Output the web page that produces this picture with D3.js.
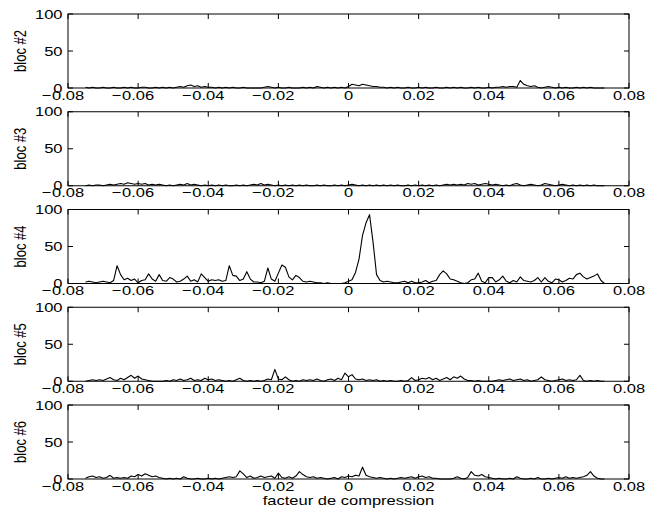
<!DOCTYPE html>
<html>
<head>
<meta charset="utf-8">
<script src="https://cdn.jsdelivr.net/npm/d3@7"></script>
<style>
    body { margin: 0; background: white; }
    svg { display: block; }
    text { font-family: "Liberation Sans", Arial, Helvetica, sans-serif; }
</style>
</head>
<body>
<svg id="chart"></svg>
<script>
// one value every 0.001 from -0.075 to 0.073
var factors = d3.range(149).map(function(i){ return +(-0.075 + i * 0.001).toFixed(3); });

var blocNames = ['bloc #2', 'bloc #3', 'bloc #4', 'bloc #5', 'bloc #6'];
var xTicks = [-0.08, -0.06, -0.04, -0.02, 0, 0.02, 0.04, 0.06, 0.08];
var yTicks = [0, 50, 100];

var bloc2 = [
    1,0,1,0,0,1,0,0,1,0, 0,1,0,1,0,0,1,1,0,0, 1,0,1,0,1,0,1,2,1,3, 4,2,3,1,2,1,1,0,1,0,
    1,0,1,0,0,1,0,0,0,0, 0,1,2,1,0,1,0,0,1,0, 0,0,1,0,1,0,2,1,0,1, 0,1,0,1,0,2,5,4,3,5,
    4,3,2,2,1,1,0,1,0,1, 0,0,1,0,0,1,0,1,0,0, 1,0,0,1,0,1,0,1,0,0, 1,0,1,0,0,1,0,1,1,2,
    1,2,2,1,10,5,3,2,3,1, 0,1,2,1,0,1,0,1,0,0, 1,0,1,0,1,0,0,0,0
];
var bloc3 = [
    0,1,0,1,1,0,1,2,1,2, 3,2,4,3,2,3,2,3,1,2, 1,2,1,0,1,0,1,2,1,3, 1,2,1,0,1,0,1,0,1,0,
    1,0,0,1,0,1,0,1,2,1, 3,1,2,1,0,1,0,1,0,1, 0,1,0,1,0,0,1,0,1,0, 0,1,0,1,0,1,2,1,0,1,
    0,1,0,1,0,1,0,1,0,1, 0,0,1,0,1,0,1,0,1,0, 1,0,1,2,1,2,1,2,1,3, 2,3,1,2,3,2,1,2,1,0,
    1,0,2,3,1,0,1,2,1,0, 1,3,2,1,0,1,2,1,0,1, 0,1,0,1,0,1,0,0,0
];
var bloc4 = [
    2,3,2,1,2,3,2,1,4,24, 12,5,7,4,6,1,4,5,13,6, 3,12,4,3,8,6,2,3,6,10, 3,5,2,13,8,3,5,4,5,3,
    4,24,11,10,4,6,16,6,2,2, 1,3,21,6,3,14,25,22,9,5, 11,8,3,2,3,2,1,1,0,1, 0,0,0,0,1,3,5,15,33,65,
    82,93,56,12,4,2,3,2,1,1, 2,3,1,3,1,1,2,4,1,3, 4,12,17,13,6,5,3,1,0,1, 5,6,14,3,1,8,8,2,5,10,
    3,1,4,2,9,4,3,2,4,8, 2,8,3,1,6,5,2,4,7,6, 12,14,9,6,8,10,13,4,0
];
var bloc5 = [
    0,1,2,1,2,1,3,5,2,1, 4,2,5,8,4,7,3,2,1,0, 0,0,0,1,0,2,1,3,1,2, 4,1,2,1,4,2,3,1,2,1,
    0,1,0,2,4,1,0,1,0,1, 0,1,3,2,16,3,2,6,2,0, 1,0,2,1,2,1,3,1,0,2, 3,1,4,2,11,6,9,3,2,3,
    1,2,1,2,0,1,0,1,0,0, 1,0,1,5,1,2,4,3,5,2, 4,1,3,5,2,6,4,7,3,1, 1,0,1,0,0,0,0,1,2,1,
    2,3,1,2,3,1,2,0,1,2, 6,2,1,0,1,2,3,1,2,1, 2,8,1,0,1,0,1,0,0
];
var bloc6 = [
    1,3,4,2,3,1,2,5,1,2, 1,2,1,4,3,6,4,7,5,3, 4,2,1,0,1,0,1,0,3,1, 0,0,1,0,0,1,0,1,0,1,
    2,3,2,3,11,7,2,4,1,2, 4,2,3,4,1,8,2,1,3,1, 4,10,6,3,2,3,1,2,1,0, 1,2,0,3,2,4,3,5,4,16,
    5,3,2,1,2,1,0,1,0,1, 2,1,2,3,1,3,4,2,3,1, 1,0,0,0,0,1,3,1,0,2, 10,5,4,6,3,2,1,0,1,0,
    0,1,0,3,1,0,0,1,0,2, 0,0,1,0,1,2,1,3,1,2, 1,2,3,5,10,4,1,0,0
];
var blocValues = [bloc2, bloc3, bloc4, bloc5, bloc6];

var width = 659;
var height = 515;
var left = 68;
var right = 629;
var panelTop = 14;
var panelHeight = 74;
var panelStep = 97.75;
var tickLength = 5;
var fontSize = 13;
var stretch = 1.27;   // the picture is a bit wider than it is tall

var svg = d3.select('svg#chart')
    .attr('width', width)
    .attr('height', height)
    .attr('xmlns', 'http://www.w3.org/2000/svg');

var x = d3.scaleLinear().domain([-0.08, 0.08]).range([left, right]);

function formatTick(v){
    if(v === 0){
        return '0';
    }
    return Math.abs(v).toFixed(2);
}

// text placed through a group so it can be stretched sideways like the original
function stretchedText(parent, px, py, str, anchor){
    var g = parent.append('g')
        .attr('transform', 'translate(' + px + ',' + py + ') scale(' + stretch + ',1)');
    var t = g.append('text')
        .attr('text-anchor', anchor)
        .style('font-size', fontSize + 'px')
        .text(str);
    return {group: g, text: t};
}

blocValues.forEach(function(values, k){
    var top = panelTop + k * panelStep;
    var bottom = top + panelHeight;
    var y = d3.scaleLinear().domain([0, 100]).range([bottom, top]);
    var panel = svg.append('g');

    var line = d3.line()
        .x(function(d, i){ return x(factors[i]); })
        .y(function(d){ return y(d); });

    panel.append('path')
        .datum(values)
        .attr('d', line)
        .style('fill', 'none')
        .style('stroke', 'black')
        .style('stroke-width', 1.1)
        .style('stroke-linejoin', 'round');

    // ticks pointing inwards on all four sides
    xTicks.forEach(function(t){
        panel.append('line')
            .attr('x1', x(t)).attr('x2', x(t))
            .attr('y1', bottom).attr('y2', bottom - tickLength)
            .style('stroke', 'black');
        panel.append('line')
            .attr('x1', x(t)).attr('x2', x(t))
            .attr('y1', top).attr('y2', top + tickLength)
            .style('stroke', 'black');

        // digits centred on the tick, minus sign hanging on the left
        var label = stretchedText(panel, x(t), bottom + 11.5, formatTick(t), 'middle');
        if(t < 0){
            var w = label.text.node().getComputedTextLength();
            label.group.append('text')
                .attr('x', -w / 2 - 0.5)
                .attr('text-anchor', 'end')
                .style('font-size', fontSize + 'px')
                .text('\u2212');
        }
    });

    yTicks.forEach(function(t){
        panel.append('line')
            .attr('x1', left).attr('x2', left + tickLength)
            .attr('y1', y(t)).attr('y2', y(t))
            .style('stroke', 'black');
        panel.append('line')
            .attr('x1', right).attr('x2', right - tickLength)
            .attr('y1', y(t)).attr('y2', y(t))
            .style('stroke', 'black');
        stretchedText(panel, left - 5.5, y(t) + 4.5, String(t), 'end');
    });

    panel.append('rect')
        .attr('x', left)
        .attr('y', top)
        .attr('width', right - left)
        .attr('height', panelHeight)
        .style('fill', 'none')
        .style('stroke', 'black')
        .style('stroke-width', 1);

    // rotated name of the bloc
    panel.append('g')
        .attr('transform', 'translate(26,' + (top + bottom) / 2 + ') scale(' + stretch + ',1) rotate(-90)')
        .append('text')
        .attr('text-anchor', 'middle')
        .style('font-size', fontSize + 'px')
        .text(blocNames[k]);
});

stretchedText(svg, (left + right) / 2, 505, 'facteur de compression', 'middle');
</script>
</body>
</html>
